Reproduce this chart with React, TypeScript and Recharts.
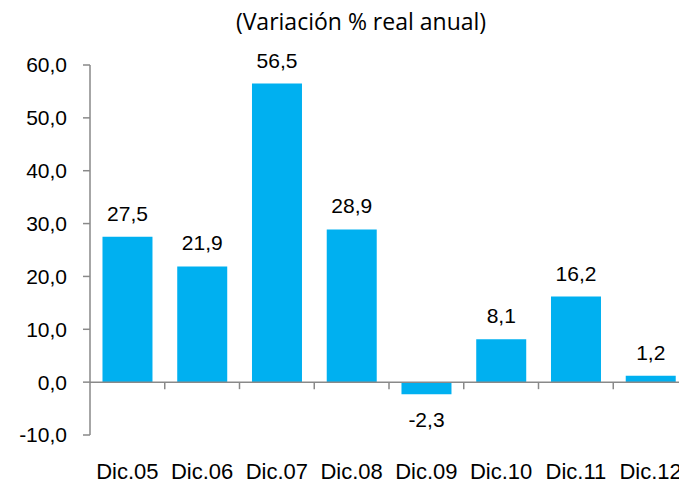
import { BarChart, Bar, XAxis, YAxis, ReferenceLine, LabelList } from 'recharts'

const categories = ['Dic.05', 'Dic.06', 'Dic.07', 'Dic.08', 'Dic.09', 'Dic.10', 'Dic.11', 'Dic.12']
const values = [27.5, 21.9, 56.5, 28.9, -2.3, 8.1, 16.2, 1.2]
const yTicks = [-10, 0, 10, 20, 30, 40, 50, 60]
const title = '(Variación % real anual)'

const data = categories.map((name, i) => ({ name, value: values[i] }))

const GRAY = '#898989'
const BLUE = '#00B0F0'
const FONT = 'Arial, "Liberation Sans", sans-serif'

const fmt = (v: number) => v.toFixed(1).replace('.', ',')

// zero line plus the little category ticks hanging under it
const ZeroAxis = (props: any) => {
  const { x1, x2, y1 } = props
  const n = categories.length
  const step = (x2 - x1) / n
  return (
    <g>
      <line x1={x1} x2={x2} y1={y1} y2={y1} stroke={GRAY} strokeWidth={1.5} />
      {categories.map((c, i) => (
        <line key={c} x1={x1 + (i + 1) * step} x2={x1 + (i + 1) * step} y1={y1} y2={y1 + 7} stroke={GRAY} strokeWidth={1.5} />
      ))}
    </g>
  )
}

const renderLabel = (props: any) => {
  const { x, y, width, height, value } = props
  const top = Math.min(y, y + height)
  const bottom = Math.max(y, y + height)
  const ty = value >= 0 ? top - 16 : bottom + 33
  return (
    <text x={x + width / 2} y={ty} textAnchor="middle" fill="#000" fontSize={21} fontFamily={FONT}>
      {fmt(value)}
    </text>
  )
}

export default function App() {
  return (
    <div style={{ position: 'absolute', left: 0, top: 0, width: 679, height: 481, overflow: 'hidden', background: '#fff' }}>
      <div
        style={{
          position: 'absolute', left: 0, top: 9, width: 722, textAlign: 'center',
          fontFamily: '"Open Sans", sans-serif', fontSize: 23, lineHeight: '24px', color: '#000',
        }}
      >
        {title}
      </div>
      <BarChart width={700} height={481} data={data} margin={{ top: 65, right: 12, left: 0, bottom: 0 }} barCategoryGap="16.7%">
        <XAxis
          dataKey="name"
          interval={0}
          axisLine={false}
          tickLine={false}
          tickSize={0}
          tickMargin={28}
          height={46}
          tick={{ fill: '#000', fontSize: 22, fontFamily: FONT }}
        />
        <YAxis
          width={90}
          domain={[-10, 60]}
          ticks={yTicks}
          interval={0}
          tickFormatter={fmt}
          axisLine={{ stroke: GRAY, strokeWidth: 1.5 }}
          tickLine={{ stroke: GRAY, strokeWidth: 1.5 }}
          tickSize={7}
          tickMargin={16}
          tick={{ fill: '#000', fontSize: 21, fontFamily: FONT }}
        />
        <Bar dataKey="value" fill={BLUE} isAnimationActive={false}>
          <LabelList dataKey="value" content={renderLabel} />
        </Bar>
        <ReferenceLine y={0} shape={ZeroAxis} />
      </BarChart>
    </div>
  )
}
